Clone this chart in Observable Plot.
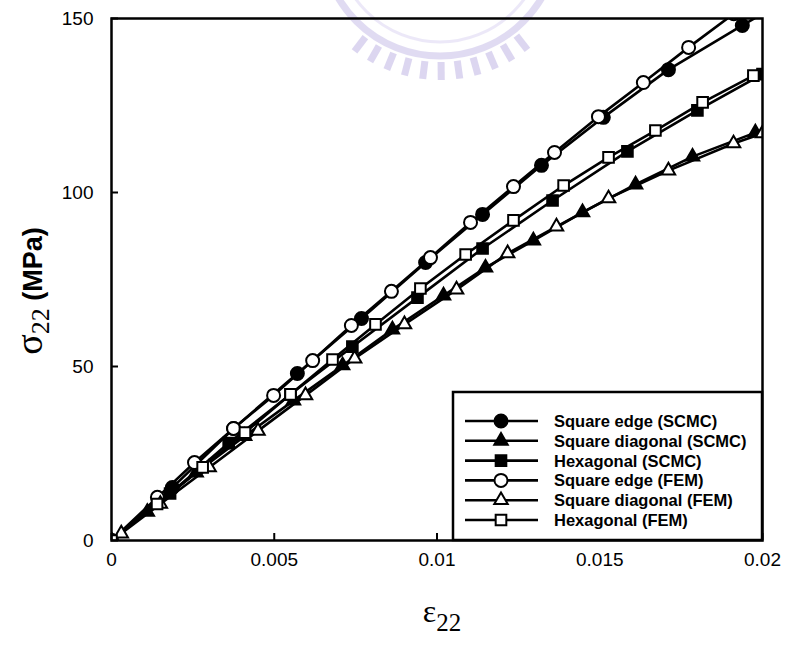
<!DOCTYPE html>
<html><head><meta charset="utf-8">
<script src="https://cdn.jsdelivr.net/npm/d3@7"></script>
<script src="https://cdn.jsdelivr.net/npm/@observablehq/plot@0.6"></script>
<style>body{margin:0;background:#fff;} svg{display:block;}</style>
</head><body><div id="chart"></div>
<script>
// ---- data (strain ε22, stress σ22 in MPa) ----
const seriesNames = ["Square edge (SCMC)", "Square diagonal (SCMC)", "Hexagonal (SCMC)",
                     "Square edge (FEM)", "Square diagonal (FEM)", "Hexagonal (FEM)"];

const strainSqEdgeSCMC = [0, 0.00187, 0.00375, 0.00571, 0.00768, 0.00965, 0.01140, 0.01321, 0.01511, 0.01711, 0.01938, 0.0213];
const stressSqEdgeSCMC = [0, 15.2, 32.2, 48.0, 63.8, 79.9, 93.7, 107.8, 121.6, 135.3, 148.0, 158.5];

const strainSqDiagSCMC = [0, 0.0011, 0.0026, 0.00409, 0.00559, 0.00710, 0.00863, 0.01020, 0.01149, 0.01296, 0.01447, 0.01610, 0.01785, 0.01978];
const stressSqDiagSCMC = [0, 8.2, 19.5, 30.0, 40.2, 50.3, 60.6, 70.4, 78.4, 86.2, 94.3, 102.3, 110.3, 117.2];

const strainHexSCMC = [0, 0.0018, 0.0036, 0.00550, 0.00740, 0.00940, 0.01140, 0.01355, 0.01585, 0.01800, 0.0200];
const stressHexSCMC = [0, 13.5, 28.0, 42.0, 55.7, 69.8, 83.9, 97.7, 111.8, 123.6, 134.0];

const strainSqEdgeFEM = [0, 0.00141, 0.00255, 0.00375, 0.00498, 0.00618, 0.00737, 0.00860, 0.00980, 0.01103, 0.01235, 0.01361, 0.01496, 0.01634, 0.01773, 0.01912];
const stressSqEdgeFEM = [0, 12.4, 22.4, 32.2, 41.7, 51.7, 61.8, 71.6, 81.3, 91.4, 101.7, 111.5, 121.8, 131.6, 141.7, 151.4];

const strainSqDiagFEM = [0, 0.0003, 0.0015, 0.0030, 0.0045, 0.00596, 0.00747, 0.00900, 0.01060, 0.01217, 0.01367, 0.01527, 0.01711, 0.01911, 0.0200];
const stressSqDiagFEM = [0, 2.0, 10.5, 21.0, 31.5, 41.7, 52.3, 62.1, 72.1, 82.5, 90.2, 98.3, 106.3, 114.1, 117.0];

const strainHexFEM = [0, 0.0014, 0.0028, 0.0041, 0.0055, 0.00679, 0.00811, 0.00949, 0.01088, 0.01235, 0.01389, 0.01527, 0.01671, 0.01816, 0.01972];
const stressHexFEM = [0, 10.5, 21.0, 31.0, 42.0, 52.0, 62.1, 72.4, 82.2, 92.0, 102.0, 110.1, 117.8, 125.9, 133.6];

const xTicks = [0, 0.005, 0.01, 0.015, 0.02];
const xTickLabels = ["0", "0.005", "0.01", "0.015", "0.02"];
const yTicks = [0, 50, 100, 150];
const yTickLabels = ["0", "50", "100", "150"];

// ---- build ----
const series = [
  {name: seriesNames[0], x: strainSqEdgeSCMC, y: stressSqEdgeSCMC, symbol: "circle",   fill: "#000", r: 6.5},
  {name: seriesNames[1], x: strainSqDiagSCMC, y: stressSqDiagSCMC, symbol: "triangle", fill: "#000", r: 5},
  {name: seriesNames[2], x: strainHexSCMC,    y: stressHexSCMC,    symbol: "square",   fill: "#000", r: 6},
  {name: seriesNames[3], x: strainSqEdgeFEM,  y: stressSqEdgeFEM,  symbol: "circle",   fill: "#fff", r: 6.5},
  {name: seriesNames[4], x: strainSqDiagFEM,  y: stressSqDiagFEM,  symbol: "triangle", fill: "#fff", r: 5},
  {name: seriesNames[5], x: strainHexFEM,     y: stressHexFEM,     symbol: "square",   fill: "#fff", r: 6}
];
const rowsOf = s => s.x.map((x, i) => ({name: s.name, x, y: s.y[i]}));

const W = 787, H = 649, mL = 111, mR = 25, mT = 18, mB = 109;
const innerW = W - mL - mR, innerH = H - mT - mB;

const chart = Plot.plot({
  width: W, height: H,
  marginLeft: mL, marginRight: mR, marginTop: mT, marginBottom: mB,
  style: {fontFamily: "'Liberation Sans', Arial, sans-serif", fontSize: "19px", color: "#000", background: "#fff"},
  x: {domain: [0, 0.02], label: null},
  y: {domain: [0, 150], label: null},
  marks: [
    ...series.map(s => Plot.line(rowsOf(s), {x: "x", y: "y", stroke: "#000", strokeWidth: 2.6, clip: true})),
    ...series.map(s => Plot.dot(rowsOf(s), {x: "x", y: "y", r: s.r, symbol: s.symbol, fill: s.fill, stroke: "#000", strokeWidth: 2, clip: true})),
    Plot.tickX(xTicks, {x: d => d, insetTop: innerH - 7, stroke: "#000", strokeWidth: 2}),
    Plot.tickY(yTicks, {y: d => d, insetRight: innerW - 7, stroke: "#000", strokeWidth: 2}),
    Plot.axisX(xTicks, {tickSize: 0, tickPadding: 12, tickFormat: d => xTickLabels[xTicks.indexOf(d)]}),
    Plot.axisY(yTicks, {tickSize: 0, tickPadding: 18, tickFormat: d => yTickLabels[yTicks.indexOf(d)]}),
    Plot.frame({stroke: "#000", strokeWidth: 2.5})
  ]
});

document.getElementById("chart").appendChild(chart);

// ---- decorations: faint watermark, axis titles, legend ----
const svg = d3.select(chart);
const serif = "'Liberation Serif', 'Times New Roman', serif";
const sans = "'Liberation Sans', Arial, sans-serif";

// faint emblem watermark behind the chart (top centre)
const wm = svg.insert("g", ":first-child").attr("opacity", 0.35).attr("fill", "none");
const wcx = 440, wcy = -62;
wm.append("circle").attr("cx", wcx).attr("cy", wcy).attr("r", 118).attr("stroke", "#a99bdc").attr("stroke-width", 7);
wm.append("circle").attr("cx", wcx).attr("cy", wcy).attr("r", 104).attr("stroke", "#c9c0ec").attr("stroke-width", 3);
d3.range(52, 130, 7.5).forEach(a => {
  const t = a * Math.PI / 180;
  wm.append("line")
    .attr("x1", wcx + 124 * Math.cos(t)).attr("y1", wcy + 124 * Math.sin(t))
    .attr("x2", wcx + 142 * Math.cos(t)).attr("y2", wcy + 142 * Math.sin(t))
    .attr("stroke", "#9c8cd6").attr("stroke-width", 7);
});

// y title: σ22 (MPa)
const yt = svg.append("text")
  .attr("transform", "translate(42,291) rotate(-90)")
  .attr("text-anchor", "middle")
  .attr("fill", "#000");
yt.append("tspan").attr("font-family", serif).attr("font-size", 38).text("σ");
yt.append("tspan").attr("font-family", serif).attr("font-size", 26).attr("dy", 7).text("22");
yt.append("tspan").attr("font-family", sans).attr("font-weight", "bold").attr("font-size", 27).attr("dy", -7).text(" (MPa)");

// x title: ε22
const xt = svg.append("text")
  .attr("transform", "translate(442,622)")
  .attr("text-anchor", "middle")
  .attr("fill", "#000")
  .attr("font-family", serif);
xt.append("tspan").attr("font-size", 32).text("ε");
xt.append("tspan").attr("font-size", 25).attr("dy", 9).text("22");

// legend
const lg = svg.append("g").attr("text-anchor", "start");
const lx0 = 453, ly0 = 392, lx1 = 762, ly1 = 540;
lg.append("rect").attr("x", lx0).attr("y", ly0).attr("width", lx1 - lx0).attr("height", ly1 - ly0)
  .attr("fill", "#fff").attr("stroke", "#000").attr("stroke-width", 2.5);
const symMap = {circle: d3.symbolCircle, triangle: d3.symbolTriangle, square: d3.symbolSquare};
series.forEach((s, i) => {
  const cy = 421 + i * 19.8;
  lg.append("line").attr("x1", 465).attr("x2", 538).attr("y1", cy).attr("y2", cy)
    .attr("stroke", "#000").attr("stroke-width", 2.6);
  lg.append("path").attr("d", d3.symbol(symMap[s.symbol], Math.PI * s.r * s.r)())
    .attr("transform", `translate(501,${cy})`)
    .attr("fill", s.fill).attr("stroke", "#000").attr("stroke-width", 2);
  lg.append("text").attr("x", 554).attr("y", cy).attr("dy", "0.36em").attr("text-anchor", "start")
    .attr("font-family", sans).attr("font-weight", "bold")
    .attr("font-size", 16.5).attr("fill", "#000").text(s.name);
});
</script>
</body></html>
